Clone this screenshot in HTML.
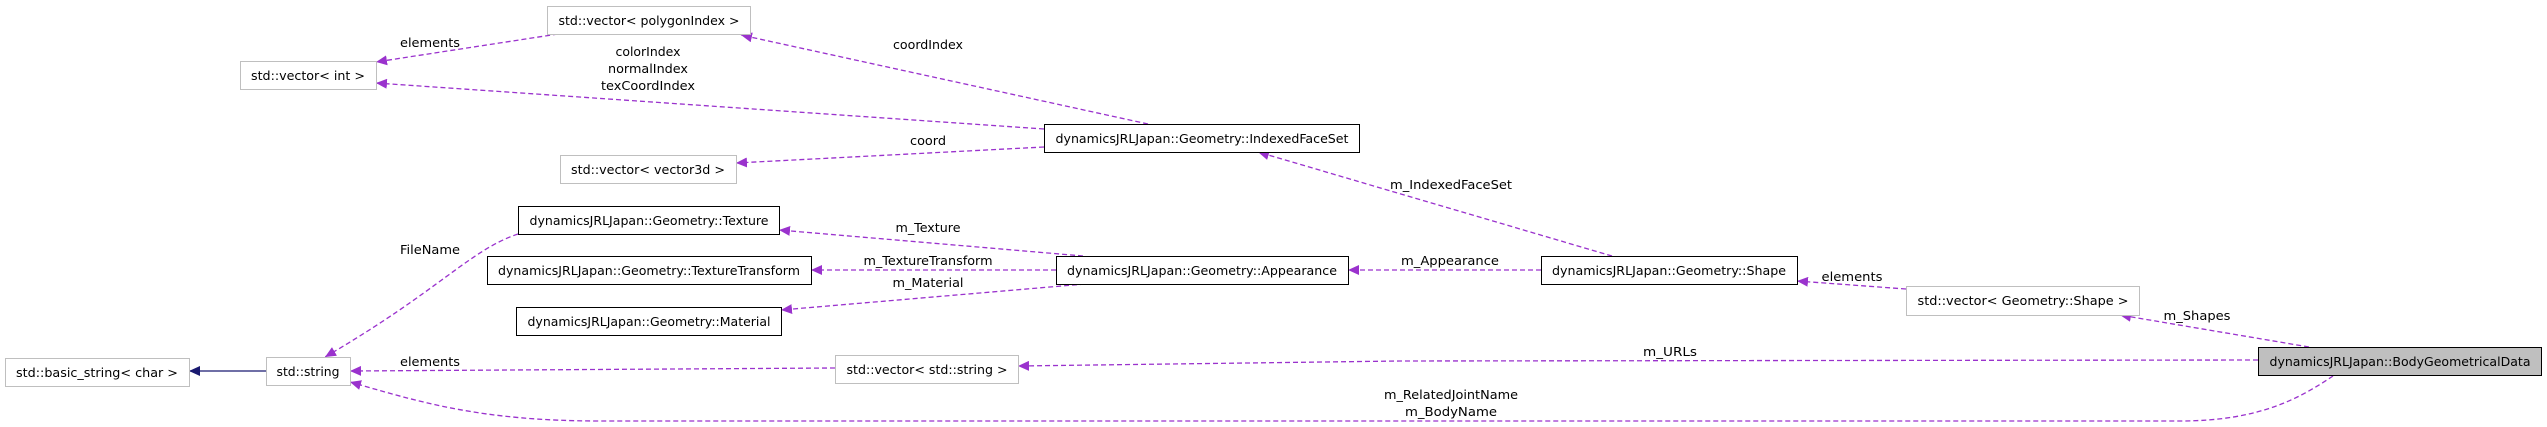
<!DOCTYPE html>
<html><head><meta charset="utf-8"><style>
html,body{margin:0;padding:0;background:#fff;}
svg{display:block;}
text{font-family:"DejaVu Sans","Liberation Sans",sans-serif;font-size:12px;fill:#000;}
</style></head><body>
<svg width="2547" height="427" viewBox="0 0 2547 427" xmlns="http://www.w3.org/2000/svg">
<defs>
<marker id="pa" markerWidth="12" markerHeight="10" refX="11" refY="5" orient="auto" markerUnits="userSpaceOnUse">
<path d="M0,0 L11,5 L0,10 z" fill="#9a32cd"/></marker>
<marker id="na" markerWidth="12" markerHeight="10" refX="11" refY="5" orient="auto" markerUnits="userSpaceOnUse">
<path d="M0,0 L11,5 L0,10 z" fill="#191970"/></marker>
</defs>
<g fill="none" stroke="#9a32cd" stroke-width="1.3" stroke-dasharray="5,3" marker-end="url(#pa)">
<path d="M558,34 L376,62"/>
<path d="M1148,124 L741,35"/>
<path d="M1044,129 L376,83"/>
<path d="M1044,147 L736,163"/>
<path d="M1612,256 L1258,152"/>
<path d="M1083,256 L779,230"/>
<path d="M1056,270 L811,270"/>
<path d="M1085,284 L781,310"/>
<path d="M1541,270 L1348,270"/>
<path d="M1906,289 L1797,281"/>
<path d="M2309,347 L2120,315"/>
<path d="M2258,360 L1400,361 L1018,366"/>
<path d="M835,368 L350,371"/>
<path d="M2333,376 C2300,398 2260,421 2180,421 L600,421 C480,421 420,402 350,382"/>
<path d="M518,234 C470,250 440,290 325,357"/>
</g>
<path d="M266,371 L189,371" stroke="#191970" stroke-width="1.3" fill="none" marker-end="url(#na)"/>
<g stroke-width="1">
<rect x="547.5" y="6.5" width="203" height="28" fill="#fff" stroke="#bfbfbf"/>
<rect x="240.5" y="61.5" width="136" height="28" fill="#fff" stroke="#bfbfbf"/>
<rect x="560.5" y="155.5" width="176" height="28" fill="#fff" stroke="#bfbfbf"/>
<rect x="518.5" y="206.5" width="261" height="28" fill="#fff" stroke="#000"/>
<rect x="487.5" y="256.5" width="324" height="28" fill="#fff" stroke="#000"/>
<rect x="516.5" y="307.5" width="265" height="28" fill="#fff" stroke="#000"/>
<rect x="5.5" y="358.5" width="184" height="28" fill="#fff" stroke="#bfbfbf"/>
<rect x="266.5" y="357.5" width="84" height="28" fill="#fff" stroke="#bfbfbf"/>
<rect x="835.5" y="355.5" width="183" height="28" fill="#fff" stroke="#bfbfbf"/>
<rect x="1044.5" y="124.5" width="315" height="28" fill="#fff" stroke="#000"/>
<rect x="1056.5" y="256.5" width="292" height="28" fill="#fff" stroke="#000"/>
<rect x="1541.5" y="256.5" width="256" height="28" fill="#fff" stroke="#000"/>
<rect x="1906.5" y="286.5" width="233" height="29" fill="#fff" stroke="#bfbfbf"/>
<rect x="2258.5" y="347.5" width="283" height="28" fill="#bfbfbf" stroke="#000"/>
</g>
<g text-anchor="middle">
<text x="649" y="25" textLength="181" lengthAdjust="spacingAndGlyphs">std::vector&lt; polygonIndex &gt;</text>
<text x="308" y="80" textLength="114" lengthAdjust="spacingAndGlyphs">std::vector&lt; int &gt;</text>
<text x="648" y="174" textLength="154" lengthAdjust="spacingAndGlyphs">std::vector&lt; vector3d &gt;</text>
<text x="649" y="225" textLength="239" lengthAdjust="spacingAndGlyphs">dynamicsJRLJapan::Geometry::Texture</text>
<text x="649" y="275" textLength="302" lengthAdjust="spacingAndGlyphs">dynamicsJRLJapan::Geometry::TextureTransform</text>
<text x="649" y="326" textLength="243" lengthAdjust="spacingAndGlyphs">dynamicsJRLJapan::Geometry::Material</text>
<text x="97" y="377" textLength="162" lengthAdjust="spacingAndGlyphs">std::basic_string&lt; char &gt;</text>
<text x="308" y="376" textLength="63" lengthAdjust="spacingAndGlyphs">std::string</text>
<text x="927" y="374" textLength="161" lengthAdjust="spacingAndGlyphs">std::vector&lt; std::string &gt;</text>
<text x="1202" y="143" textLength="293" lengthAdjust="spacingAndGlyphs">dynamicsJRLJapan::Geometry::IndexedFaceSet</text>
<text x="1202" y="275" textLength="270" lengthAdjust="spacingAndGlyphs">dynamicsJRLJapan::Geometry::Appearance</text>
<text x="1669" y="275" textLength="234" lengthAdjust="spacingAndGlyphs">dynamicsJRLJapan::Geometry::Shape</text>
<text x="2023" y="305" textLength="211" lengthAdjust="spacingAndGlyphs">std::vector&lt; Geometry::Shape &gt;</text>
<text x="2400" y="366" textLength="261" lengthAdjust="spacingAndGlyphs">dynamicsJRLJapan::BodyGeometricalData</text>

<text x="430" y="47" textLength="60" lengthAdjust="spacingAndGlyphs">elements</text>
<text x="648" y="56" textLength="65" lengthAdjust="spacingAndGlyphs">colorIndex</text>
<text x="648" y="73" textLength="80" lengthAdjust="spacingAndGlyphs">normalIndex</text>
<text x="648" y="90" textLength="94" lengthAdjust="spacingAndGlyphs">texCoordIndex</text>
<text x="928" y="49" textLength="70" lengthAdjust="spacingAndGlyphs">coordIndex</text>
<text x="928" y="145" textLength="36" lengthAdjust="spacingAndGlyphs">coord</text>
<text x="430" y="254" textLength="60" lengthAdjust="spacingAndGlyphs">FileName</text>
<text x="928" y="232" textLength="65" lengthAdjust="spacingAndGlyphs">m_Texture</text>
<text x="928" y="265" textLength="129" lengthAdjust="spacingAndGlyphs">m_TextureTransform</text>
<text x="928" y="287" textLength="71" lengthAdjust="spacingAndGlyphs">m_Material</text>
<text x="430" y="366" textLength="60" lengthAdjust="spacingAndGlyphs">elements</text>
<text x="1451" y="189" textLength="122" lengthAdjust="spacingAndGlyphs">m_IndexedFaceSet</text>
<text x="1450" y="265" textLength="98" lengthAdjust="spacingAndGlyphs">m_Appearance</text>
<text x="1852" y="281" textLength="61" lengthAdjust="spacingAndGlyphs">elements</text>
<text x="2197" y="320" textLength="67" lengthAdjust="spacingAndGlyphs">m_Shapes</text>
<text x="1670" y="356" textLength="54" lengthAdjust="spacingAndGlyphs">m_URLs</text>
<text x="1451" y="399" textLength="134" lengthAdjust="spacingAndGlyphs">m_RelatedJointName</text>
<text x="1451" y="416" textLength="92" lengthAdjust="spacingAndGlyphs">m_BodyName</text>
</g>
</svg>
</body></html>
